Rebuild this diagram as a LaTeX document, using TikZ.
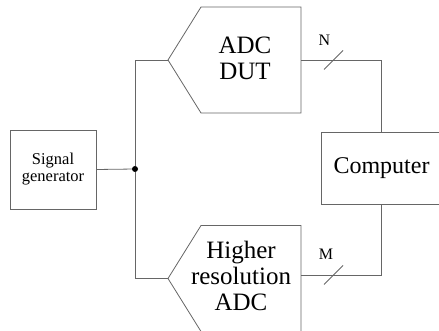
\documentclass[tikz,border=0pt]{standalone}
\usepackage{fontspec}
\setmainfont{Liberation Serif}
\usetikzlibrary{calc}

\begin{document}
\begin{tikzpicture}[x=1pt, y=-1pt,
    wire/.style={draw=black!60, line width=0.8pt},
    box/.style={draw=black!60, line width=0.8pt, align=center, inner sep=0},
    bigtext/.style={align=center, inner sep=0, font=\fontsize{25}{26}\selectfont},
    buslabel/.style={inner sep=0, font=\fontsize{16}{18}\selectfont},
    dot/.style={circle, fill=black, inner sep=0, minimum size=6pt}]

    \useasboundingbox (0,0) rectangle (439,331);
    \clip (0,0) rectangle (439,331);

    % Generador de senal
    \node[box, minimum width=86, minimum height=79,
          font=\fontsize{16.5}{17}\selectfont] (gen) at (53,169.5) {Signal\\generator};
    \node[dot] (split) at (135,169) {};

    % ADC bajo prueba
    \coordinate (dutin) at (168,60);
    \coordinate (dutout) at (301,60);
    \draw[wire] (dutin) -- (201,7) -- (301,7) -- (301,113) -- (201,113) -- cycle;
    \node[bigtext] (dut) at (245,58) {ADC\\DUT};

    % ADC de mayor resolucion
    \coordinate (hrin) at (168,278.5);
    \coordinate (hrout) at (301,275);
    \draw[wire] (hrin) -- (201,225.5) -- (301,225.5) -- (301,331.5) -- (201,331.5) -- cycle;
    \node[bigtext] (hr) at (241,275.5) {Higher\\resolution\\ADC};

    % Computador
    \node[box, minimum width=121, minimum height=72,
          font=\fontsize{24}{26}\selectfont] (comp) at (381.5,168) {Computer};

    % Conexiones
    \draw[wire] (gen.east) -- (split);
    \draw[wire] (dutin) -| (split);
    \draw[wire] (hrin) -| (split);
    \draw[wire] (dutout) -| (comp.north);
    \draw[wire] (hrout) -| (comp.south);

    % Buses de N y M bits
    \coordinate (nbus) at (333.5,60);
    \coordinate (mbus) at (333.5,275);
    \draw[wire] ($(nbus)+(-9.5,9.5)$) -- ($(nbus)+(9.5,-9.5)$);
    \draw[wire] ($(mbus)+(-9.5,9.5)$) -- ($(mbus)+(9.5,-9.5)$);
    \node[buslabel] (nlabel) at (324.5,40) {N};
    \node[buslabel] (mlabel) at (326,254.5) {M};
\end{tikzpicture}
\end{document}
